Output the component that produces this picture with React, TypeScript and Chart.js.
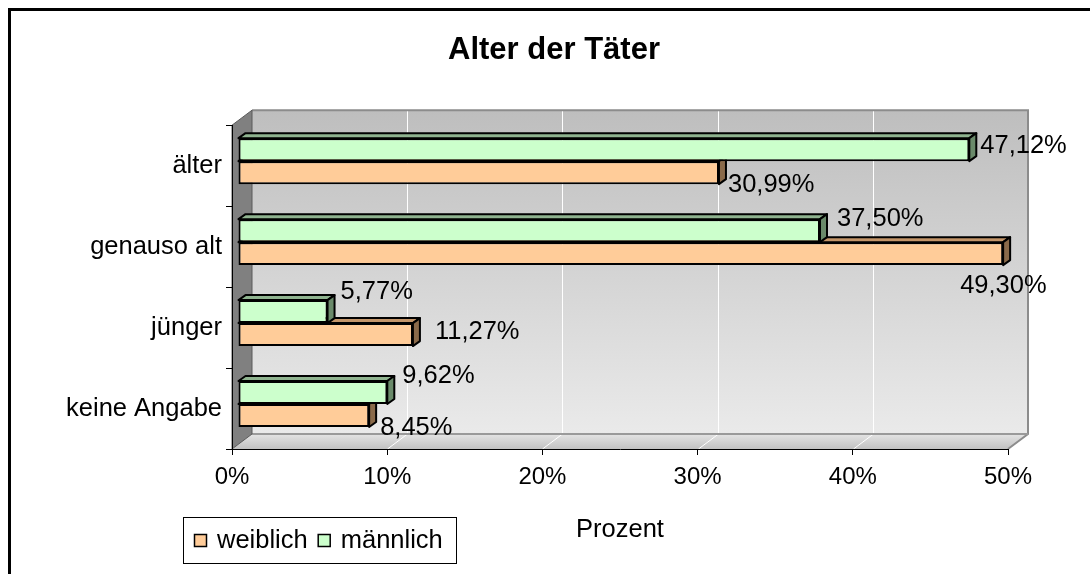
import React, { useEffect, useRef } from 'react';
import { Chart, registerables } from 'chart.js';

Chart.register(...registerables);

// ---------- data ----------
const chartTitle = 'Alter der Täter';
const axisTitle = 'Prozent';
const categories = ['älter', 'genauso alt', 'jünger', 'keine Angabe'];
const seriesNames = ['weiblich', 'männlich'];
const weiblich = [30.99, 49.3, 11.27, 8.45];
const maennlich = [47.12, 37.5, 5.77, 9.62];
const xMin = 0;
const xMax = 50;
const xStep = 10;

// ---------- style ----------
const FONT = '"Liberation Sans", Arial, Helvetica, sans-serif';
const TEXT_SIZE = 25.5;
const WALL = { dx: 20, dy: -15 }; // depth of the 3D box
const BAR_SHIFT = { dx: 6, dy: -4.5 }; // bars sit a bit inside the box
const BAR_DEPTH = { dx: 7, dy: -5 };
const COLORS = [
  { front: '#FFCC99', top: '#C4966A', side: '#8A6A4A' },
  { front: '#CCFFCC', top: '#8FB38F', side: '#6A8A6A' },
];
// label offsets (relative to bar end / bar centre), mimicking Excel placement
const labelNudge = [
  [[9, 12.5], [-43, 32], [22, -2.5], [11, 12]],
  [[11, -4], [17, -11.5], [13, -20], [15, -17]],
];

const fmt = (v: number) => v.toFixed(2).replace('.', ',') + '%';

const box3d = {
  id: 'box3d',
  beforeDraw(chart: any) {
    const { ctx, chartArea: a, scales } = chart;
    const x = scales.x;
    ctx.save();
    ctx.fillStyle = '#ffffff';
    ctx.fillRect(0, 0, chart.width, chart.height);
    // outer frame
    ctx.strokeStyle = '#000';
    ctx.lineWidth = 3;
    ctx.strokeRect(9.5, 9.5, chart.width + 40, chart.height + 40);

    const bl = a.left + WALL.dx, bt = a.top + WALL.dy, br = a.right + WALL.dx, bb = a.bottom + WALL.dy;
    // back wall
    const g = ctx.createLinearGradient(0, bt, 0, bb);
    g.addColorStop(0, '#BEBEBE');
    g.addColorStop(1, '#EAEAEA');
    ctx.fillStyle = g;
    ctx.fillRect(bl, bt, br - bl, bb - bt);

    // floor
    const fg = ctx.createLinearGradient(0, bb, 0, a.bottom);
    fg.addColorStop(0, '#E4E4E4');
    fg.addColorStop(1, '#C2C2C2');
    ctx.fillStyle = fg;
    ctx.beginPath();
    ctx.moveTo(a.left, a.bottom);
    ctx.lineTo(bl, bb);
    ctx.lineTo(br, bb);
    ctx.lineTo(a.right, a.bottom);
    ctx.closePath();
    ctx.fill();

    // gridlines (back wall + floor)
    ctx.strokeStyle = '#ffffff';
    ctx.lineWidth = 1;
    x.ticks.forEach((t: any) => {
      if (t.value <= x.min || t.value >= x.max) return;
      const px = Math.round(x.getPixelForValue(t.value)) + 0.5;
      ctx.beginPath();
      ctx.moveTo(px + WALL.dx, bt);
      ctx.lineTo(px + WALL.dx, bb);
      ctx.lineTo(px, a.bottom);
      ctx.stroke();
    });

    // wall edges
    ctx.strokeStyle = '#8C8C8C';
    ctx.lineWidth = 2;
    ctx.beginPath();
    ctx.moveTo(bl, bt);
    ctx.lineTo(br, bt);
    ctx.lineTo(br, bb);
    ctx.lineTo(a.right, a.bottom);
    ctx.stroke();
    ctx.strokeStyle = '#9A9A9A';
    ctx.beginPath();
    ctx.moveTo(bl, bb);
    ctx.lineTo(br, bb);
    ctx.stroke();

    // left wall
    ctx.fillStyle = '#808080';
    ctx.beginPath();
    ctx.moveTo(a.left, a.top);
    ctx.lineTo(bl, bt);
    ctx.lineTo(bl, bb);
    ctx.lineTo(a.left, a.bottom);
    ctx.closePath();
    ctx.fill();
    ctx.strokeStyle = '#5A5A5A';
    ctx.lineWidth = 1;
    ctx.stroke();
    ctx.restore();
  },
  beforeDatasetsDraw(chart: any) {
    const { ctx } = chart;
    ctx.save();
    ctx.translate(BAR_SHIFT.dx, BAR_SHIFT.dy);
    chart.data.datasets.forEach((ds: any, di: number) => {
      const meta = chart.getDatasetMeta(di);
      const c = COLORS[di];
      meta.data.forEach((el: any) => {
        const { x, y, base, height } = el.getProps(['x', 'y', 'base', 'height'], true);
        const left = Math.min(x, base), right = Math.max(x, base);
        const top = y - height / 2, bottom = y + height / 2;
        ctx.lineWidth = 2;
        ctx.strokeStyle = '#000';
        ctx.lineJoin = 'round';
        // top face
        ctx.fillStyle = c.top;
        ctx.beginPath();
        ctx.moveTo(left, top);
        ctx.lineTo(left + BAR_DEPTH.dx, top + BAR_DEPTH.dy);
        ctx.lineTo(right + BAR_DEPTH.dx, top + BAR_DEPTH.dy);
        ctx.lineTo(right, top);
        ctx.closePath();
        ctx.fill();
        ctx.stroke();
        // side face
        ctx.fillStyle = c.side;
        ctx.beginPath();
        ctx.moveTo(right, top);
        ctx.lineTo(right + BAR_DEPTH.dx, top + BAR_DEPTH.dy);
        ctx.lineTo(right + BAR_DEPTH.dx, bottom + BAR_DEPTH.dy);
        ctx.lineTo(right, bottom);
        ctx.closePath();
        ctx.fill();
        ctx.stroke();
      });
    });
  },
  afterDatasetsDraw(chart: any) {
    const { ctx } = chart;
    ctx.font = `${TEXT_SIZE}px ${FONT}`;
    ctx.fillStyle = '#000';
    ctx.textAlign = 'left';
    ctx.textBaseline = 'middle';
    chart.data.datasets.forEach((ds: any, di: number) => {
      const meta = chart.getDatasetMeta(di);
      meta.data.forEach((el: any, i: number) => {
        const { x, y } = el.getProps(['x', 'y'], true);
        const [nx, ny] = labelNudge[di][i];
        ctx.fillText(fmt(ds.data[i]), x + nx, y + ny);
      });
    });
    ctx.restore();
  },
  afterDraw(chart: any) {
    const { ctx } = chart;
    ctx.save();
    // legend box
    ctx.strokeStyle = '#000';
    ctx.lineWidth = 1;
    ctx.strokeRect(183.5, 517.5, 273, 46);
    ctx.font = `${TEXT_SIZE}px ${FONT}`;
    ctx.textAlign = 'left';
    ctx.textBaseline = 'middle';
    let lx = 194;
    chart.data.datasets.forEach((ds: any) => {
      ctx.fillStyle = ds.backgroundColor;
      ctx.fillRect(lx + 0.5, 534.5, 12, 12);
      ctx.strokeStyle = '#000';
      ctx.lineWidth = 1.5;
      ctx.strokeRect(lx + 0.5, 534.5, 12, 12);
      ctx.fillStyle = '#000';
      ctx.fillText(ds.label, lx + 23, 541);
      lx += 23 + ctx.measureText(ds.label).width + 10;
    });
    ctx.restore();
  },
};

export default function App() {
  const ref = useRef<HTMLCanvasElement | null>(null);
  useEffect(() => {
    if (!ref.current) return;
    const chart = new Chart(ref.current, {
      type: 'bar',
      data: {
        labels: categories,
        datasets: [
          {
            label: seriesNames[0],
            data: weiblich,
            backgroundColor: COLORS[0].front,
            borderColor: '#000',
            borderWidth: 2,
            borderSkipped: false,
            order: 1,
            clip: false,
          } as any,
          {
            label: seriesNames[1],
            data: maennlich,
            backgroundColor: COLORS[1].front,
            borderColor: '#000',
            borderWidth: 2,
            borderSkipped: false,
            order: 0,
            clip: false,
          } as any,
        ],
      },
      options: {
        indexAxis: 'y',
        responsive: false,
        animation: false,
        events: [],
        categoryPercentage: 0.568,
        barPercentage: 1,
        layout: { padding: { left: 18, right: 0, top: 0, bottom: 0 } },
        plugins: {
          legend: { display: false },
          tooltip: { enabled: false },
          title: {
            display: true,
            text: chartTitle,
            color: '#000',
            font: { family: FONT, size: 31, weight: 'bold' },
            padding: { top: 32, bottom: 56 },
          },
        },
        scales: {
          x: {
            type: 'linear',
            position: 'bottom',
            min: xMin,
            max: xMax,
            ticks: {
              stepSize: xStep,
              callback: (v: any) => v + '%',
              color: '#000',
              font: { family: FONT, size: 24 },
              padding: 8,
            },
            grid: { drawOnChartArea: false, drawTicks: true, tickLength: 6, color: '#000', lineWidth: 1 },
            border: { display: true, color: '#000', width: 1 },
            title: {
              display: true,
              text: axisTitle,
              color: '#000',
              font: { family: FONT, size: TEXT_SIZE },
              padding: { top: 0, bottom: 29 },
            },
            afterFit: (s: any) => {
              s.height = 125;
            },
          },
          y: {
            type: 'category',
            position: 'left',
            offset: true,
            ticks: { color: '#000', font: { family: FONT, size: TEXT_SIZE }, padding: 4 },
            grid: { offset: true, drawOnChartArea: false, drawTicks: true, tickLength: 6, color: '#000' },
            border: { display: true, color: '#000', width: 1 },
            afterFit: (s: any) => {
              s.width = 214;
            },
          },
          yRight: {
            type: 'linear',
            position: 'right',
            display: true,
            ticks: { display: false },
            grid: { display: false },
            border: { display: false },
            afterFit: (s: any) => {
              s.width = 82;
            },
          },
        },
      } as any,
      plugins: [box3d],
    });
    return () => chart.destroy();
  }, []);
  return (
    <div style={{ position: 'absolute', left: 0, top: 0, width: 1090, height: 574 }}>
      <canvas ref={ref} width={1090} height={574} style={{ display: 'block' }} />
    </div>
  );
}
